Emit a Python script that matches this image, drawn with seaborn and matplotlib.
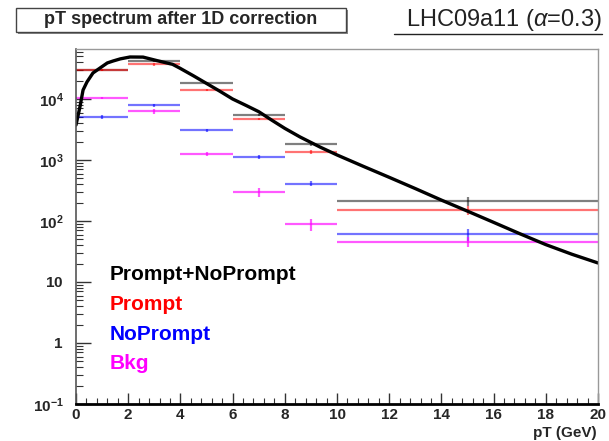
import matplotlib
matplotlib.use("Agg")
import matplotlib.pyplot as plt
import matplotlib.ticker as mticker
from matplotlib.patches import Rectangle
from matplotlib.lines import Line2D
import seaborn as sns
import pandas as pd

# bins in pT (GeV)
bin_lo = [0, 2, 4, 6, 8, 10]
bin_hi = [2, 4, 6, 8, 10, 20]

# corrected yields per bin
sum_vals = [30000, 42600, 18100, 5470, 1830, 213]
sum_err = [1000, 1500, 800, 300, 120, 35]
prompt_vals = [30000, 37000, 14000, 4700, 1370, 150]
prompt_err = [1000, 2500, 700, 250, 100, 25]
noprompt_vals = [5070, 7870, 3070, 1130, 408, 61]
noprompt_err = [350, 500, 200, 80, 40, 14]
bkg_vals = [10500, 6350, 1250, 302, 88, 46]
bkg_err = [400, 600, 100, 50, 20, 8]

# reference spectrum (black curve)
fit_pt = [0.0, 0.15, 0.27, 0.42, 0.65, 0.92, 1.2, 1.42, 1.7, 2.07, 2.57, 3.1,
          3.7, 3.98, 4.5, 5.0, 5.5, 6.0, 6.5, 7.0, 7.5, 8.0, 8.58, 9.35, 10.0,
          11.0, 12.0, 13.0, 14.0, 15.0, 16.0, 17.0, 18.0, 19.0, 20.0]
fit_yield = [3750, 7390, 14000, 19000, 26700, 32200, 39000, 41950, 45500, 48800,
             48600, 42600, 37000, 32000, 24000, 18000, 13500, 10000, 7900, 6200,
             4500, 3300, 2390, 1630, 1210, 790, 520, 340, 220, 145, 95, 62, 41,
             28.5, 20.5]

legend_names = ["Prompt+NoPrompt", "Prompt", "NoPrompt", "Bkg"]
colors = ["black", "red", "blue", "magenta"]

sns.set_theme(style="white")
plt.rcParams['font.family'] = ['Liberation Sans', 'DejaVu Sans']
plt.rcParams['mathtext.fontset'] = 'custom'
plt.rcParams['mathtext.rm'] = 'Liberation Sans'
plt.rcParams['mathtext.it'] = 'Liberation Sans:italic'
plt.rcParams['mathtext.bf'] = 'Liberation Sans:bold'

fig = plt.figure(figsize=(6.09, 4.41), dpi=100)
ax = fig.add_axes([76/609, 1-404/441, 522/609, 355/441])

centers = [(a + b) / 2 for a, b in zip(bin_lo, bin_hi)]
halfw = [(b - a) / 2 for a, b in zip(bin_lo, bin_hi)]
series = [(sum_vals, sum_err), (prompt_vals, prompt_err),
          (noprompt_vals, noprompt_err), (bkg_vals, bkg_err)]
alphas = [0.5, 0.55, 0.55, 0.65]
for (v, e), c, a in zip(series, colors, alphas):
    ax.errorbar(centers, v, xerr=halfw, yerr=e, fmt='none', ecolor=c,
                elinewidth=1.6, alpha=a, capsize=0)

df = pd.DataFrame({"pt": fit_pt, "y": fit_yield})
sns.lineplot(data=df, x="pt", y="y", color="black", lw=2.4, ax=ax,
             estimator=None, sort=False)

ax.set_yscale("log")
ax.set_xlim(0, 20)
ax.set_ylim(0.1, 66000)
ax.set_xlabel("")
ax.set_ylabel("")

ax.xaxis.set_major_locator(mticker.MultipleLocator(2))
ax.xaxis.set_minor_locator(mticker.MultipleLocator(0.4))
ax.yaxis.set_major_locator(mticker.FixedLocator([0.1, 1, 10, 100, 1000, 10000]))
ax.yaxis.set_major_formatter(mticker.FixedFormatter(
    [r"$\mathbf{10^{-1}}$", r"$\mathbf{1}$", r"$\mathbf{10}$",
     r"$\mathbf{10^{2}}$", r"$\mathbf{10^{3}}$", r"$\mathbf{10^{4}}$"]))
ax.yaxis.set_minor_locator(mticker.LogLocator(base=10, subs=range(2, 10), numticks=20))
ax.yaxis.set_minor_formatter(mticker.NullFormatter())

ax.tick_params(axis='both', which='both', direction='in', color='#333333',
               top=False, right=False, left=True, bottom=True)
ax.tick_params(axis='y', which='major', length=11, width=1, pad=9, labelsize=11)
ax.tick_params(axis='y', which='minor', length=5, width=0.8)
ax.tick_params(axis='x', which='major', length=8, width=1, pad=3, labelsize=11)
ax.tick_params(axis='x', which='minor', length=4, width=0.8)
for lab in ax.get_xticklabels():
    lab.set_fontweight('bold')

ax.spines['bottom'].set_linewidth(2)
ax.spines['bottom'].set_color('black')
ax.spines['left'].set_linewidth(1.2)
ax.spines['left'].set_color('#555555')
for s in ['top', 'right']:
    ax.spines[s].set_linewidth(1)
    ax.spines[s].set_color('#999999')

fig.text(597/609, 1-433/441, "pT (GeV)", ha='right', va='center',
         fontsize=11, fontweight='bold')

# legend-like labels
for i, (name, c) in enumerate(zip(legend_names, colors)):
    fig.text(110/609, 1-(275 + 29.5*i)/441, name, color=c, ha='left',
             va='center', fontsize=15, fontweight='bold')

# title pave with shadow
fig.add_artist(Rectangle((18/609, 1-34/441), 330/609, 24/441,
                         transform=fig.transFigure, facecolor='#888888',
                         edgecolor='none'))
fig.add_artist(Rectangle((16/609, 1-32/441), 330/609, 24/441,
                         transform=fig.transFigure, facecolor='white',
                         edgecolor='#444444', lw=1))
fig.text(181/609, 1-20/441, "pT spectrum after 1D correction", ha='center',
         va='center', fontsize=13, fontweight='bold')

fig.text(602/609, 1-20/441, r"LHC09a11 ($\alpha$=0.3)", ha='right',
         va='center', fontsize=17, color='#222222')
fig.add_artist(Line2D([394/609, 602/609], [1-34/441, 1-34/441],
                      transform=fig.transFigure, color='#222222', lw=1))

fig.savefig("out.png", dpi=100)
